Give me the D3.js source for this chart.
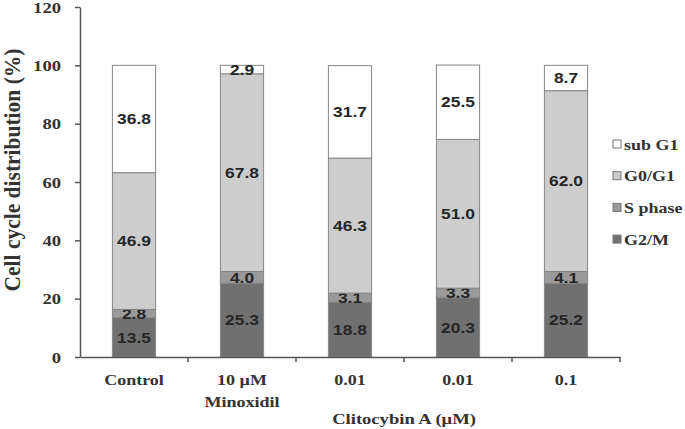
<!DOCTYPE html>
<html>
<head>
<meta charset="utf-8">
<script src="https://cdn.jsdelivr.net/npm/d3@7"></script>
<style>
  body { margin: 0; background: #fff; }
  svg { display: block; }
</style>
</head>
<body>
<div id="chart"></div>
<script>
// categories (x axis); "\n" splits a label in two lines
const categories = ["Control", "10 µM\nMinoxidil", "0.01", "0.01 ", "0.1"];
// series, bottom to top
const seriesNames = ["G2/M", "S phase", "G0/G1", "sub G1"];
const g2m = [13.5, 25.3, 18.8, 20.3, 25.2];
const sPhase = [2.8, 4.0, 3.1, 3.3, 4.1];
const g0g1 = [46.9, 67.8, 46.3, 51.0, 62.0];
const subG1 = [36.8, 2.9, 31.7, 25.5, 8.7];
const yTicks = [0, 20, 40, 60, 80, 100, 120];

const seriesColors = ["#707070", "#9a9a9a", "#cdcdcd", "#ffffff"];

const width = 685, height = 429;
const margin = { top: 7, right: 65, bottom: 72, left: 80 };
const sx = 1.2; // the source picture is stretched sideways

const svg = d3.select("#chart").append("svg")
  .attr("width", width)
  .attr("height", height);

const table = categories.map((c, i) => ({
  cat: c,
  "G2/M": g2m[i],
  "S phase": sPhase[i],
  "G0/G1": g0g1[i],
  "sub G1": subG1[i]
}));

const stacked = d3.stack().keys(seriesNames)(table);

const x = d3.scaleBand()
  .domain(categories)
  .range([margin.left, width - margin.right])
  .paddingInner(0.6)
  .paddingOuter(0.3);

const y = d3.scaleLinear()
  .domain([0, 120])
  .range([height - margin.bottom, margin.top]);

const serif = "'Liberation Serif', 'Times New Roman', serif";
const sans = "'Liberation Sans', Arial, sans-serif";

//Places a text at px,py, stretched sideways
function place(sel, px, py) {
  sel.attr("x", 0).attr("y", 0)
    .attr("transform", (d, i) => {
      const a = typeof px === "function" ? px(d, i) : px;
      const b = typeof py === "function" ? py(d, i) : py;
      return `translate(${a},${b}) scale(${sx},1)`;
    });
}

// bars
const layer = svg.append("g").selectAll("g")
  .data(stacked)
  .join("g")
  .attr("fill", (d, i) => seriesColors[i]);

layer.selectAll("rect")
  .data(d => d)
  .join("rect")
  .attr("x", d => x(d.data.cat))
  .attr("y", d => y(d[1]))
  .attr("width", x.bandwidth())
  .attr("height", d => y(d[0]) - y(d[1]))
  .attr("stroke", "#858585")
  .attr("stroke-width", 1);

// value labels
layer.selectAll("text")
  .data(d => d.map(v => ({ v: v, key: d.key })))
  .join("text")
  .attr("dy", "0.36em")
  .attr("text-anchor", "middle")
  .attr("fill", "#262626")
  .style("font-family", sans)
  .style("font-weight", "bold")
  .style("font-size", "14.5px")
  .text(d => d3.format(".1f")(d.v.data[d.key]))
  .call(place,
    d => x(d.v.data.cat) + x.bandwidth() / 2,
    d => (y(d.v[0]) + y(d.v[1])) / 2);

// y axis
const yAxis = svg.append("g")
  .attr("transform", `translate(${margin.left},0)`)
  .call(d3.axisLeft(y).tickValues(yTicks).tickSize(5).tickSizeOuter(0));
yAxis.select(".domain").attr("stroke", "#555").attr("stroke-width", 1.5);
yAxis.selectAll(".tick line").attr("stroke", "#555").attr("stroke-width", 1.5);
yAxis.selectAll(".tick text")
  .attr("fill", "#333")
  .attr("dy", "0.34em")
  .style("font-family", serif)
  .style("font-weight", "bold")
  .style("font-size", "15.5px")
  .call(place, -19, 0);

// x axis
const xAxis = svg.append("g")
  .attr("transform", `translate(0,${y(0)})`)
  .call(d3.axisBottom(x).tickSize(0).tickSizeOuter(0).tickFormat(""));
xAxis.select(".domain").attr("stroke", "#555").attr("stroke-width", 1.5);
xAxis.selectAll(".tick").remove();

// tick marks between categories
const step = x.step();
xAxis.selectAll(".sep")
  .data(categories)
  .join("line")
  .attr("class", "sep")
  .attr("x1", d => x(d) + x.bandwidth() / 2 + step / 2)
  .attr("x2", d => x(d) + x.bandwidth() / 2 + step / 2)
  .attr("y1", 0)
  .attr("y2", 5)
  .attr("stroke", "#555")
  .attr("stroke-width", 1.5);

// category labels
const catLabels = svg.append("g").selectAll("text")
  .data(categories)
  .join("text")
  .attr("text-anchor", "middle")
  .attr("fill", "#333")
  .style("font-family", serif)
  .style("font-weight", "bold")
  .style("font-size", "15px")
  .call(place, d => x(d) + x.bandwidth() / 2, y(0) + 28);
catLabels.each(function (d) {
  const lines = d.trim().split("\n");
  const t = d3.select(this);
  lines.forEach((l, i) => {
    t.append("tspan")
      .attr("x", 0)
      .attr("dy", i === 0 ? 0 : 22)
      .text(l);
  });
});

// x axis title (cut by the lower edge in the source, kept just inside here)
svg.append("text")
  .attr("text-anchor", "middle")
  .attr("fill", "#333")
  .style("font-family", serif)
  .style("font-weight", "bold")
  .style("font-size", "15.5px")
  .text("Clitocybin A (μM)")
  .call(place, (x(categories[2]) + x(categories[3]) + x.bandwidth()) / 2, y(0) + 67);

// y axis title
svg.append("text")
  .attr("transform", `translate(20,${(y(0) + y(120)) / 2 - 12}) rotate(-90) scale(1,1.05)`)
  .attr("text-anchor", "middle")
  .attr("fill", "#333")
  .style("font-family", serif)
  .style("font-weight", "bold")
  .style("font-size", "21.5px")
  .text("Cell cycle distribution (%)");

// legend, top to bottom
const legendItems = seriesNames.slice().reverse();
const legend = svg.append("g")
  .attr("transform", "translate(613,140)")
  .selectAll("g")
  .data(legendItems)
  .join("g")
  .attr("transform", (d, i) => `translate(0,${i * 31.7})`);

legend.append("rect")
  .attr("width", 8)
  .attr("height", 8)
  .attr("fill", d => seriesColors[seriesNames.indexOf(d)])
  .attr("stroke", "#777")
  .attr("stroke-width", 1);

legend.append("text")
  .attr("dy", "0.35em")
  .attr("fill", "#333")
  .style("font-family", serif)
  .style("font-weight", "bold")
  .style("font-size", "15px")
  .text(d => d)
  .call(place, 11, 4.5);
</script>
</body>
</html>
